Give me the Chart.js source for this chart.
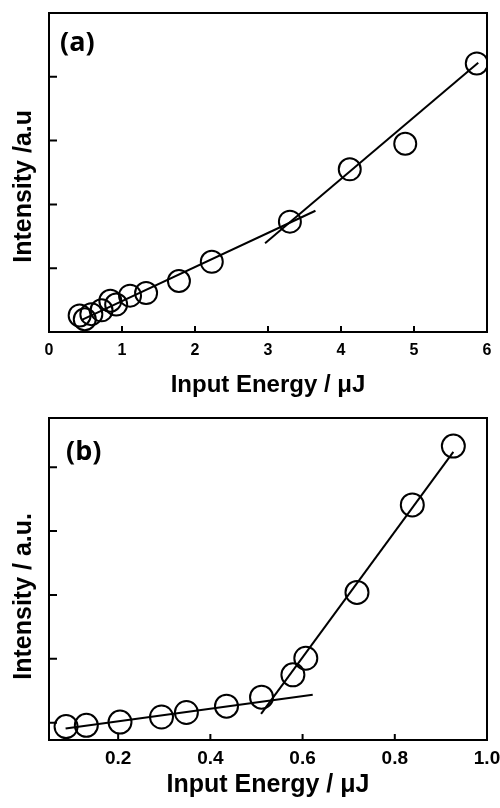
<!DOCTYPE html>
<html>
<head>
<meta charset="utf-8">
<script src="https://cdn.jsdelivr.net/npm/chart.js@4"></script>
<style>
  html, body { margin: 0; padding: 0; background: #fff; }
  #wrap { position: relative; width: 500px; height: 808px; }
  .panel { position: absolute; left: 0; width: 500px; }
  .tag { position: absolute; font-family: 'Open Sans', 'Liberation Sans', sans-serif; font-weight: 700; font-size: 27px; line-height: 30px; color: #000; }
</style>
</head>
<body>
<div id="wrap">
  <div class="panel" style="top:0;height:400px;"><canvas id="ca" width="500" height="400"></canvas></div>
  <div class="panel" style="top:400px;height:408px;"><canvas id="cb" width="500" height="408"></canvas></div>
  <div class="tag" style="left:60px;top:26px;">(a)</div>
  <div class="tag" style="left:66px;top:435px;">(b)</div>
</div>
<script>
// ---- Panel (a) data ----
const energyA    = [0.42, 0.49, 0.58, 0.72, 0.84, 0.92, 1.11, 1.33, 1.78, 2.23, 3.30, 4.12, 4.88, 5.86];
const intensityA = [0.26, 0.20, 0.28, 0.34, 0.49, 0.43, 0.57, 0.61, 0.80, 1.10, 1.73, 2.55, 2.95, 4.21];
const fitLowA_x  = [0.45, 3.65];
const fitLowA_y  = [0.19, 1.90];
const fitHighA_x = [2.96, 5.88];
const fitHighA_y = [1.39, 4.22];
const xTicksA    = [0, 1, 2, 3, 4, 5, 6];
const yTicksA    = [0, 1, 2, 3, 4, 5];

// ---- Panel (b) data ----
const energyB    = [0.087, 0.131, 0.204, 0.294, 0.348, 0.435, 0.511, 0.579, 0.607, 0.718, 0.838, 0.927];
const intensityB = [-0.06, -0.04, 0.01, 0.09, 0.16, 0.26, 0.40, 0.75, 1.01, 2.04, 3.41, 4.33];
const fitLowB_x  = [0.086, 0.622];
const fitLowB_y  = [-0.09, 0.44];
const fitHighB_x = [0.510, 0.927];
const fitHighB_y = [0.14, 4.24];
const xTicksB    = [0.2, 0.4, 0.6, 0.8, 1.0];
const yTicksB    = [0, 1, 2, 3, 4];

Chart.defaults.font.family = "'Liberation Sans', Arial, sans-serif";
Chart.defaults.color = '#000';

const pts = (xs, ys) => xs.map((x, i) => ({x: x, y: ys[i]}));

const framePlugin = {
  id: 'frame',
  afterDraw(chart) {
    const {ctx, chartArea: {left, right, top, bottom}, scales: {x, y}} = chart;
    ctx.save();
    ctx.strokeStyle = '#000';
    ctx.lineWidth = 2;
    ctx.strokeRect(left, top, right - left, bottom - top);
    ctx.beginPath();
    x.ticks.forEach(t => { const px = x.getPixelForValue(t.value); ctx.moveTo(px, bottom); ctx.lineTo(px, bottom - 6); });
    y.ticks.forEach(t => { const py = y.getPixelForValue(t.value); ctx.moveTo(left, py); ctx.lineTo(left + 8, py); });
    ctx.stroke();
    ctx.restore();
  }
};

function makeChart(id, cfg) {
  const lineDs = (xs, ys) => ({
    type: 'line', data: pts(xs, ys), showLine: true, borderColor: '#000', borderWidth: 2,
    pointRadius: 0, fill: false, tension: 0
  });
  return new Chart(document.getElementById(id), {
    type: 'scatter',
    data: {
      datasets: [
        lineDs(cfg.lowX, cfg.lowY),
        lineDs(cfg.highX, cfg.highY),
        {
          data: pts(cfg.ex, cfg.ey), pointStyle: 'circle', pointRadius: cfg.r,
          pointBorderColor: '#000', pointBackgroundColor: 'rgba(0,0,0,0)', pointBorderWidth: 2,
          showLine: false
        }
      ]
    },
    options: {
      responsive: false, animation: false, events: [],
      layout: { padding: cfg.pad, autoPadding: false },
      plugins: { legend: { display: false }, tooltip: { enabled: false } },
      scales: {
        x: {
          type: 'linear', min: cfg.xmin, max: cfg.xmax,
          afterBuildTicks: s => { s.ticks = cfg.xticks.map(v => ({value: v})); },
          afterFit: s => { s.height = cfg.xAxisH; s.paddingLeft = 0; s.paddingRight = 0; },
          ticks: { font: cfg.xtickFont, color: '#000', padding: cfg.xtickPad,
                   maxRotation: 0, autoSkip: false, callback: cfg.xfmt },
          grid: { display: false, drawTicks: false, tickLength: 0 }, border: { display: false },
          title: { display: true, text: 'Input Energy / μJ', color: '#000',
                   font: { size: cfg.xtitleSize, weight: 'bold' }, padding: cfg.xtitlePad }
        },
        y: {
          type: 'linear', min: cfg.ymin, max: cfg.ymax,
          afterBuildTicks: s => { s.ticks = cfg.yticks.map(v => ({value: v})); },
          afterFit: s => { s.width = 49; s.paddingTop = 0; s.paddingBottom = 0; },
          ticks: { display: false },
          grid: { display: false, drawTicks: false, tickLength: 0 }, border: { display: false },
          title: { display: true, text: cfg.ytitle, color: '#000',
                   font: { size: 25, weight: 'bold' }, padding: { top: 9, bottom: 10 } }
        }
      }
    },
    plugins: [framePlugin]
  });
}

makeChart('ca', {
  ex: energyA, ey: intensityA, lowX: fitLowA_x, lowY: fitLowA_y, highX: fitHighA_x, highY: fitHighA_y,
  r: 11, xmin: 0, xmax: 6, ymin: 0, ymax: 5, xticks: xTicksA, yticks: yTicksA,
  xfmt: v => String(v), xtickFont: { size: 16, weight: 'bold' }, xtickPad: 9, xAxisH: 68,
  xtitleSize: 24, xtitlePad: { top: 4, bottom: 0 },
  ytitle: 'Intensity /a.u    ',
  pad: { top: 13, right: 13, left: 0, bottom: 0 }
});

makeChart('cb', {
  ex: energyB, ey: intensityB, lowX: fitLowB_x, lowY: fitLowB_y, highX: fitHighB_x, highY: fitHighB_y,
  r: 11.5, xmin: 0.05, xmax: 1.0, ymin: -0.27, ymax: 4.77, xticks: xTicksB, yticks: yTicksB,
  xfmt: v => Number(v).toFixed(1), xtickFont: { size: 19, weight: 'bold' }, xtickPad: 7, xAxisH: 68,
  xtitleSize: 25, xtitlePad: { top: 0, bottom: 8 },
  ytitle: 'Intensity / a.u.     ',
  pad: { top: 18, right: 13, left: 0, bottom: 0 }
});
</script>
</body>
</html>
